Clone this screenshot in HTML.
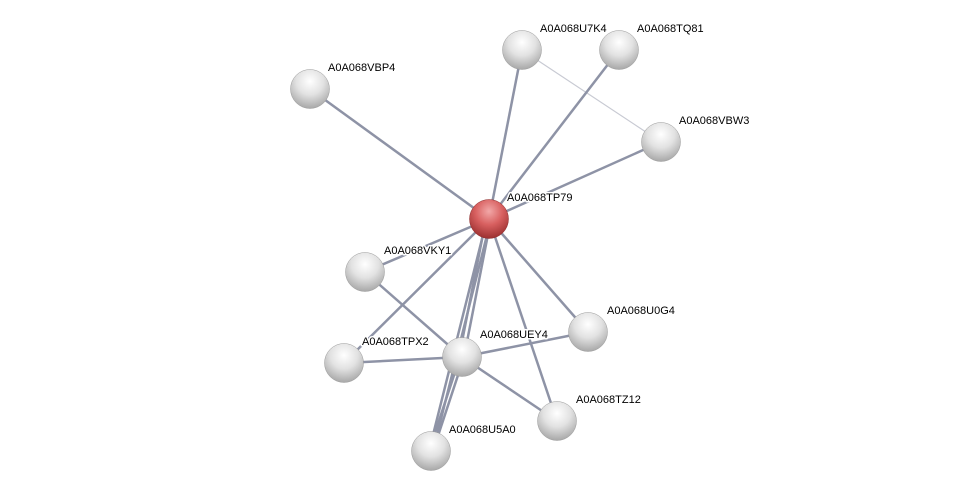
<!DOCTYPE html>
<html><head><meta charset="utf-8"><style>
html,body{margin:0;padding:0;background:#fff;}
svg text{font-family:"Liberation Sans",sans-serif;font-size:11px;fill:#000;paint-order:stroke;stroke:#fff;stroke-width:3px;stroke-linejoin:round;}
</style></head><body>
<svg width="975" height="496" viewBox="0 0 975 496" xmlns="http://www.w3.org/2000/svg">
<defs>
<radialGradient id="g" cx="0.5" cy="0.3" r="0.7">
<stop offset="0" stop-color="#ffffff"/><stop offset="0.5" stop-color="#e2e2e2"/><stop offset="1" stop-color="#a8a8a8"/></radialGradient>
<radialGradient id="r" cx="0.5" cy="0.3" r="0.7">
<stop offset="0" stop-color="#f2a8a8"/><stop offset="0.5" stop-color="#d86060"/><stop offset="1" stop-color="#9c3030"/></radialGradient>
</defs>
<g stroke="#8e93a6" stroke-width="2.5" fill="none">
<line x1="522" y1="50" x2="661" y2="142" stroke="#c8cad3" stroke-width="1.2"/>
<line x1="489" y1="219" x2="310" y2="89"/>
<line x1="489" y1="219" x2="522" y2="50"/>
<line x1="489" y1="219" x2="619" y2="50"/>
<line x1="489" y1="219" x2="661" y2="142"/>
<line x1="489" y1="219" x2="365" y2="272"/>
<line x1="489" y1="219" x2="588" y2="332"/>
<line x1="489" y1="219" x2="344" y2="363"/>
<line x1="486" y1="219" x2="459" y2="357"/>
<line x1="491" y1="219" x2="464" y2="357"/>
<line x1="489" y1="219" x2="557" y2="421"/>
<line x1="487" y1="219" x2="429" y2="451"/>
<line x1="491" y1="219" x2="433" y2="451"/>
<line x1="365" y1="272" x2="462" y2="357"/>
<line x1="344" y1="363" x2="462" y2="357"/>
<line x1="462" y1="357" x2="588" y2="332"/>
<line x1="462" y1="357" x2="557" y2="421"/>
<line x1="460" y1="357" x2="429" y2="451"/>
<line x1="464" y1="357" x2="433" y2="451"/>
</g>
<g stroke="#999" stroke-width="0.5">
<circle cx="310" cy="89" r="19.5" fill="url(#g)"/>
<circle cx="522" cy="50" r="19.5" fill="url(#g)"/>
<circle cx="619" cy="50" r="19.5" fill="url(#g)"/>
<circle cx="661" cy="142" r="19.5" fill="url(#g)"/>
<circle cx="365" cy="272" r="19.5" fill="url(#g)"/>
<circle cx="588" cy="332" r="19.5" fill="url(#g)"/>
<circle cx="344" cy="363" r="19.5" fill="url(#g)"/>
<circle cx="462" cy="357" r="19.5" fill="url(#g)"/>
<circle cx="557" cy="421" r="19.5" fill="url(#g)"/>
<circle cx="431" cy="451" r="19.5" fill="url(#g)"/>
<circle cx="489" cy="219" r="19.5" fill="url(#r)" stroke="#8a2a2a"/>
</g>
<text x="328" y="71">A0A068VBP4</text>
<text x="540" y="32">A0A068U7K4</text>
<text x="637" y="32">A0A068TQ81</text>
<text x="679" y="124">A0A068VBW3</text>
<text x="507" y="201">A0A068TP79</text>
<text x="384" y="254">A0A068VKY1</text>
<text x="607" y="314">A0A068U0G4</text>
<text x="362" y="345">A0A068TPX2</text>
<text x="480" y="338">A0A068UEY4</text>
<text x="576" y="403">A0A068TZ12</text>
<text x="449" y="433">A0A068U5A0</text>
</svg>
</body></html>
